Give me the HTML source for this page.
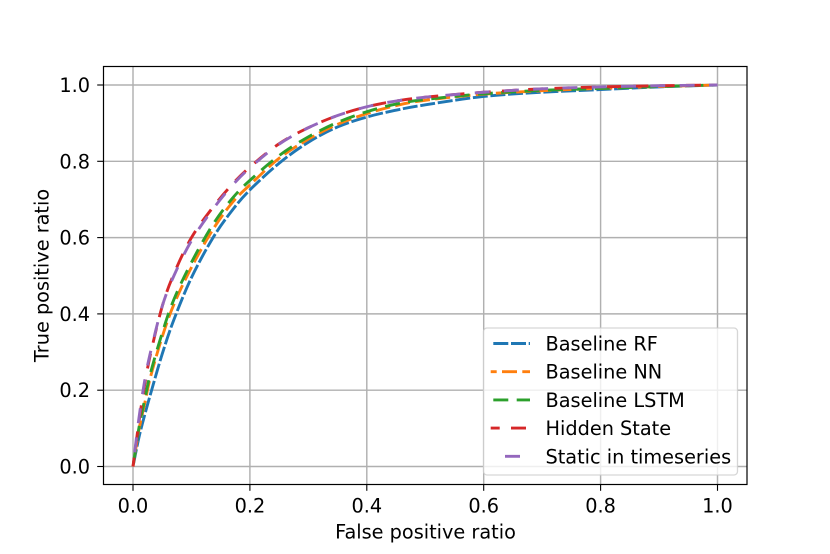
<!DOCTYPE html>
<html>
<head>
<meta charset="utf-8">
<style>
html,body{margin:0;padding:0;background:#fff;width:830px;height:554px;overflow:hidden}
svg{display:block}
text{font-family:"DejaVu Sans","Liberation Sans",sans-serif;fill:#000;font-size:19.3px}
</style>
</head>
<body>
<svg id="chart" width="830" height="554" viewBox="0 0 830 554" xmlns="http://www.w3.org/2000/svg"></svg>
<script>
const seriesNames = ["Baseline RF", "Baseline NN", "Baseline LSTM", "Hidden State", "Static in timeseries"];
const xTickLabels = ["0.0", "0.2", "0.4", "0.6", "0.8", "1.0"];
const yTickLabels = ["0.0", "0.2", "0.4", "0.6", "0.8", "1.0"];
const fprGrid = [0, 0.01, 0.02, 0.03, 0.05, 0.07, 0.1, 0.137, 0.17, 0.2, 0.25, 0.3, 0.35, 0.4, 0.45, 0.5, 0.6, 0.7, 0.8, 0.9, 1];
const tprRF = [0, 0.075, 0.135, 0.19, 0.295, 0.385, 0.495, 0.6, 0.672, 0.725, 0.795, 0.85, 0.89, 0.916, 0.934, 0.948, 0.97, 0.981, 0.988, 0.995, 1];
const tprNN = [0, 0.095, 0.165, 0.235, 0.34, 0.425, 0.522, 0.622, 0.692, 0.738, 0.808, 0.858, 0.897, 0.925, 0.946, 0.96, 0.976, 0.985, 0.991, 0.996, 1];
const tprLSTM = [0, 0.1, 0.175, 0.245, 0.35, 0.438, 0.535, 0.635, 0.703, 0.75, 0.815, 0.864, 0.902, 0.93, 0.95, 0.962, 0.977, 0.986, 0.991, 0.996, 1];
const tprHidden = [0, 0.115, 0.215, 0.295, 0.42, 0.505, 0.6, 0.68, 0.74, 0.785, 0.846, 0.888, 0.92, 0.943, 0.958, 0.968, 0.981, 0.99, 0.995, 0.998, 1];
const tprStatic = [0, 0.125, 0.225, 0.3, 0.42, 0.5, 0.592, 0.675, 0.737, 0.783, 0.845, 0.888, 0.92, 0.943, 0.958, 0.968, 0.981, 0.99, 0.995, 0.998, 1];

const NS = "http://www.w3.org/2000/svg";
const svg = document.getElementById("chart");
function xScale(v) { return 133 + v * 584.5; }
function yScale(v) { return 466.5 - v * 381.5; }
function add(parent, tag, attrs) {
  const el = document.createElementNS(NS, tag);
  for (const k in attrs) el.setAttribute(k, attrs[k]);
  parent.appendChild(el);
  return el;
}
const axLeft = 103.5, axRight = 747, axTop = 66.5, axBottom = 484.5;
const colors = ["#1f77b4", "#ff7f0e", "#2ca02c", "#d62728", "#9467bd"];
const dashes = ["15 2.7", "15 5.3", "15 8.4", "15 11.3", "15 14.3"];
const dashOffsets = [-2.6, 9, -2.6, 6, -14.3];
const ysAll = [tprRF, tprNN, tprLSTM, tprHidden, tprStatic];

add(svg, "rect", {x: 0, y: 0, width: 830, height: 554, fill: "#fff"});

// gridlines
xTickLabels.forEach(function (label) {
  const v = parseFloat(label);
  const g = add(svg, "line", {x1: xScale(v), x2: xScale(v), y1: axTop, y2: axBottom, stroke: "#b0b0b0", "stroke-width": 1.45});
  
  
});
yTickLabels.forEach(function (label) {
  const v = parseFloat(label);
  const g = add(svg, "line", {x1: axLeft, x2: axRight, y1: yScale(v), y2: yScale(v), stroke: "#b0b0b0", "stroke-width": 1.45});
  
  
});

// series (smoothed via Catmull-Rom through the read points)
function pathFor(xs, ys) {
  const p = xs.map(function (x, i) { return [xScale(x), yScale(ys[i])]; });
  let d = "M" + p[0][0].toFixed(2) + " " + p[0][1].toFixed(2);
  for (let i = 0; i < p.length - 1; i++) {
    const a = p[Math.max(i - 1, 0)], b = p[i], c = p[i + 1], e = p[Math.min(i + 2, p.length - 1)];
    const c1x = b[0] + (c[0] - a[0]) / 6, c1y = b[1] + (c[1] - a[1]) / 6;
    const c2x = c[0] - (e[0] - b[0]) / 6, c2y = c[1] - (e[1] - b[1]) / 6;
    d += "C" + c1x.toFixed(2) + " " + c1y.toFixed(2) + " " + c2x.toFixed(2) + " " + c2y.toFixed(2) + " " + c[0].toFixed(2) + " " + c[1].toFixed(2);
  }
  return d;
}
seriesNames.forEach(function (name, i) {
  const line = add(svg, "path", {d: pathFor(fprGrid, ysAll[i]), fill: "none", stroke: colors[i], "stroke-width": 2.9, "stroke-dasharray": dashes[i], "stroke-dashoffset": dashOffsets[i]});
  
  
});

// axes frame
const frame = add(svg, "rect", {x: axLeft, y: axTop, width: axRight - axLeft, height: axBottom - axTop, fill: "none", stroke: "#000", "stroke-width": 1.2});



// ticks and tick labels
xTickLabels.forEach(function (label) {
  const v = parseFloat(label);
  const t = add(svg, "line", {x1: xScale(v), x2: xScale(v), y1: axBottom, y2: axBottom + 6.3, stroke: "#000", "stroke-width": 1.1});
  
  
  const tx = add(svg, "text", {x: xScale(v), y: 512.3, "text-anchor": "middle"});
  tx.textContent = label;
  
  
});
yTickLabels.forEach(function (label) {
  const v = parseFloat(label);
  const t = add(svg, "line", {x1: axLeft - 6.3, x2: axLeft, y1: yScale(v), y2: yScale(v), stroke: "#000", "stroke-width": 1.1});
  
  
  const tx = add(svg, "text", {x: 90, y: yScale(v) + 7, "text-anchor": "end"});
  tx.textContent = label;
  
  
});

// axis titles
const xt = add(svg, "text", {x: 425.5, y: 538.3, "text-anchor": "middle"});
xt.textContent = "False positive ratio";


const yt = add(svg, "text", {x: 48.3, y: 275.5, "text-anchor": "middle", transform: "rotate(-90 48.3 275.5)"});
yt.textContent = "True positive ratio";



// legend
const legendBox = add(svg, "rect", {x: 483.5, y: 328, width: 254, height: 147, rx: 3.5, ry: 3.5, fill: "#fff", "fill-opacity": 0.8, stroke: "#ccc", "stroke-opacity": 0.8, "stroke-width": 1.3});


seriesNames.forEach(function (name, i) {
  const ly = 343.5 + i * 28.2;
  const h = add(svg, "line", {x1: 490.7, x2: 530, y1: ly, y2: ly, stroke: colors[i], "stroke-width": 2.9, "stroke-dasharray": dashes[i], "stroke-dashoffset": dashOffsets[i]});
  
  
  const t = add(svg, "text", {x: 545.5, y: ly + 7});
  t.textContent = name;
  
  
});
</script>
</body>
</html>
